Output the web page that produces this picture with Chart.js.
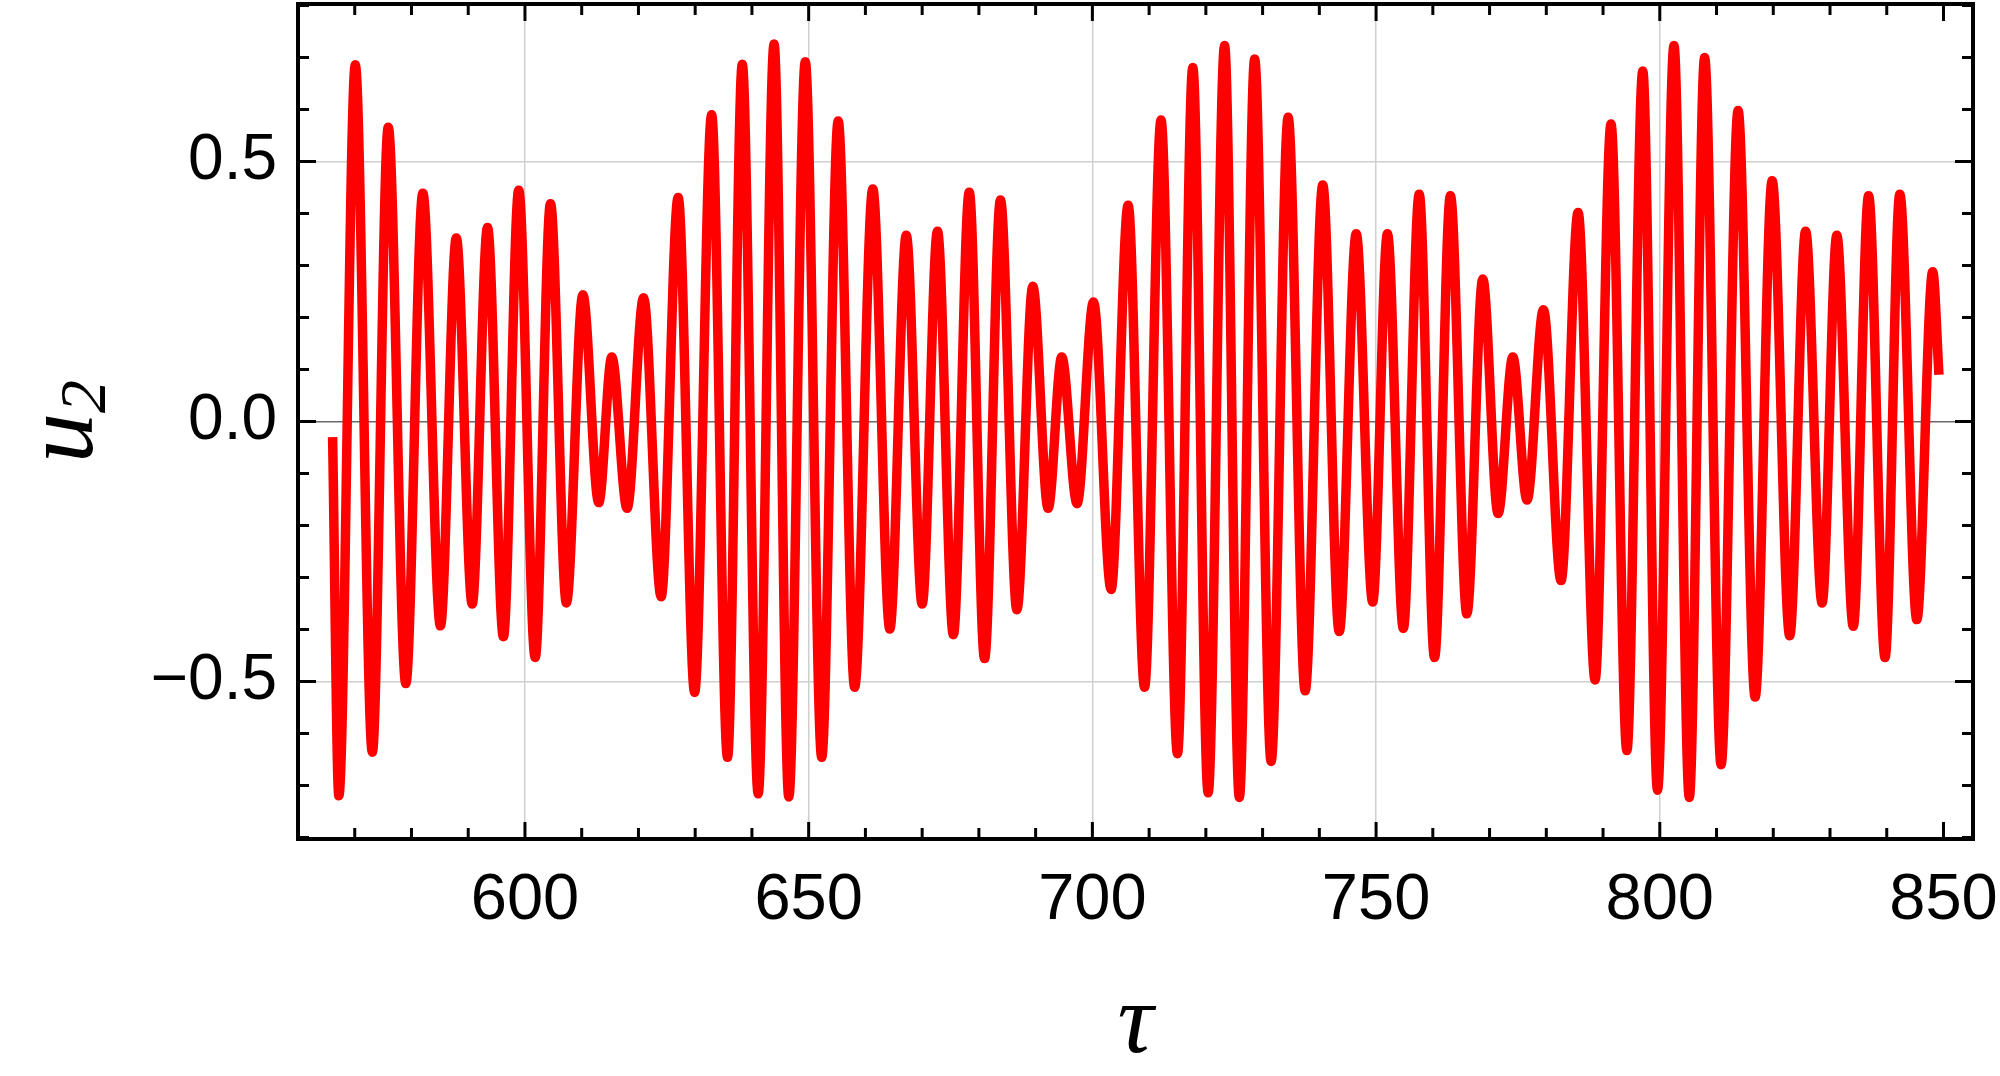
<!DOCTYPE html>
<html>
<head>
<meta charset="utf-8">
<script src="https://cdn.jsdelivr.net/npm/chart.js@4/dist/chart.umd.min.js"></script>
<style>
    html, body { margin: 0; padding: 0; background: #fff; }
    canvas { display: block; }
</style>
</head>
<body>
<canvas id="grafico" width="2000" height="1076"></canvas>
<script>
// u2(tau): extremos (mas punto inicial y final)
const tau = [
    566.1, 567.2, 570.1, 573.1, 575.9, 579.0, 582.0, 585.1, 587.9, 590.7,
    593.4, 596.2, 598.9, 601.8, 604.5, 607.3, 610.2, 613.0, 615.3, 618.0,
    620.9, 624.0, 627.0, 629.9, 632.9, 635.7, 638.3, 641.1, 643.9, 646.5,
    649.4, 652.3, 655.2, 658.1, 661.3, 664.3, 667.2, 670.0, 672.7, 675.5,
    678.3, 681.0, 683.8, 686.7, 689.5, 692.2, 694.6, 697.3, 700.2, 703.3,
    706.3, 709.2, 712.1, 715.0, 717.7, 720.4, 723.3, 725.9, 728.6, 731.5,
    734.5, 737.5, 740.6, 743.5, 746.5, 749.4, 752.0, 754.8, 757.6, 760.3,
    763.1, 766.0, 768.8, 771.5, 774.1, 776.6, 779.5, 782.6, 785.6, 788.6,
    791.4, 794.2, 797.0, 799.6, 802.5, 805.2, 807.9, 810.8, 813.8, 816.8,
    819.8, 822.9, 825.7, 828.6, 831.2, 834.1, 836.8, 839.7, 842.3, 845.3,
    848.1, 849.2
];
const u2 = [
    -0.03, -0.72, 0.686, -0.636, 0.566, -0.504, 0.439, -0.393, 0.353, -0.351,
    0.373, -0.414, 0.445, -0.454, 0.419, -0.349, 0.244, -0.156, 0.124, -0.167,
    0.238, -0.337, 0.431, -0.521, 0.590, -0.646, 0.687, -0.716, 0.726, -0.722,
    0.692, -0.646, 0.578, -0.511, 0.447, -0.399, 0.358, -0.351, 0.366, -0.410,
    0.441, -0.456, 0.426, -0.362, 0.260, -0.167, 0.124, -0.158, 0.230, -0.323,
    0.416, -0.511, 0.580, -0.639, 0.681, -0.714, 0.723, -0.723, 0.697, -0.654,
    0.585, -0.518, 0.455, -0.404, 0.361, -0.347, 0.361, -0.398, 0.437, -0.454,
    0.434, -0.370, 0.274, -0.177, 0.124, -0.151, 0.215, -0.306, 0.402, -0.497,
    0.572, -0.633, 0.674, -0.709, 0.723, -0.723, 0.700, -0.660, 0.598, -0.530,
    0.463, -0.412, 0.366, -0.349, 0.358, -0.394, 0.434, -0.454, 0.437, -0.381,
    0.288, 0.090
];

const xRange = [560, 855.2];
const yRange = [-0.803, 0.803];
const xMajor = 50, xMinor = 10;
const yMajor = 0.5, yMinor = 0.1;

const puntos = tau.map((t, i) => ({ x: t, y: u2[i] }));

function etiquetaY(v) {
    if (v === 0) return '0.0';
    return (v < 0 ? '\u2212' : '') + Math.abs(v).toFixed(1);
}

// marco, ticks hacia dentro y titulos de ejes
const marco = {
    id: 'marco',
    afterDraw(chart) {
        const { ctx, chartArea: a, scales: { x, y } } = chart;
        ctx.save();
        ctx.strokeStyle = '#000';
        ctx.lineWidth = 3;
        for (let v = xRange[0]; v <= 850.001; v += xMinor) {
            const px = x.getPixelForValue(v);
            const len = Math.abs(v % xMajor) < 0.001 ? 17 : 11;
            ctx.beginPath();
            ctx.moveTo(px, a.bottom); ctx.lineTo(px, a.bottom - len);
            ctx.moveTo(px, a.top); ctx.lineTo(px, a.top + len);
            ctx.stroke();
        }
        for (let i = -8; i <= 8; i++) {
            const py = y.getPixelForValue(i * yMinor);
            const len = i % 5 === 0 ? 18 : 11;
            ctx.beginPath();
            ctx.moveTo(a.left, py); ctx.lineTo(a.left + len, py);
            ctx.moveTo(a.right, py); ctx.lineTo(a.right - len, py);
            ctx.stroke();
        }
        ctx.lineWidth = 4;
        ctx.strokeRect(a.left, a.top, a.right - a.left, a.bottom - a.top);

        ctx.fillStyle = '#000';
        ctx.textBaseline = 'alphabetic';
        ctx.textAlign = 'center';
        ctx.font = 'italic 100px "Liberation Serif"';
        ctx.fillText('\u03c4', (a.left + a.right) / 2, 1052);

        ctx.translate(92, (a.top + a.bottom) / 2);
        ctx.rotate(-Math.PI / 2);
        ctx.textAlign = 'left';
        ctx.font = 'italic 100px "Liberation Serif"';
        const wu = ctx.measureText('u').width;
        ctx.font = 'italic 66px "Liberation Serif"';
        const w2 = ctx.measureText('2').width;
        const x0 = -(wu + w2) / 2;
        ctx.font = 'italic 100px "Liberation Serif"';
        ctx.fillText('u', x0, 0);
        ctx.font = 'italic 66px "Liberation Serif"';
        ctx.fillText('2', x0 + wu, 13);
        ctx.restore();
    }
};

const ctx = document.getElementById('grafico').getContext('2d');

new Chart(ctx, {
    type: 'line',
    data: {
        datasets: [{
            data: puntos,
            borderColor: '#ff0000',
            borderWidth: 9.5,
            borderJoinStyle: 'round',
            pointRadius: 0,
            cubicInterpolationMode: 'monotone',
            fill: false
        }]
    },
    options: {
        responsive: false,
        animation: false,
        devicePixelRatio: 1,
        layout: { autoPadding: false, padding: { left: 0, right: 27, top: 4, bottom: 0 } },
        plugins: {
            legend: { display: false },
            tooltip: { enabled: false }
        },
        scales: {
            x: {
                type: 'linear',
                min: xRange[0],
                max: xRange[1],
                border: { display: false },
                grid: {
                    drawTicks: false,
                    lineWidth: 1.5,
                    color: c => c.tick && c.tick.value === 850 ? 'rgba(0,0,0,0)' : '#cfcfcf'
                },
                ticks: {
                    stepSize: xMajor,
                    includeBounds: false,
                    autoSkip: false,
                    maxRotation: 0,
                    padding: 23,
                    color: '#000',
                    font: { family: '"Liberation Sans", Arial, sans-serif', size: 65 },
                    callback: v => String(v)
                },
                afterFit: s => { s.height = 237; s.paddingLeft = 0; s.paddingRight = 0; }
            },
            y: {
                min: yRange[0],
                max: yRange[1],
                border: { display: false },
                grid: {
                    drawTicks: false,
                    lineWidth: 1.5,
                    color: c => c.tick && c.tick.value === 0 ? '#6a6a6a' : '#cfcfcf'
                },
                ticks: {
                    stepSize: yMajor,
                    includeBounds: false,
                    padding: 21,
                    color: '#000',
                    font: { family: '"Liberation Sans", Arial, sans-serif', size: 64 },
                    callback: v => etiquetaY(v)
                },
                afterFit: s => { s.width = 298; s.paddingTop = 0; s.paddingBottom = 0; }
            }
        }
    },
    plugins: [marco]
});
</script>
</body>
</html>
